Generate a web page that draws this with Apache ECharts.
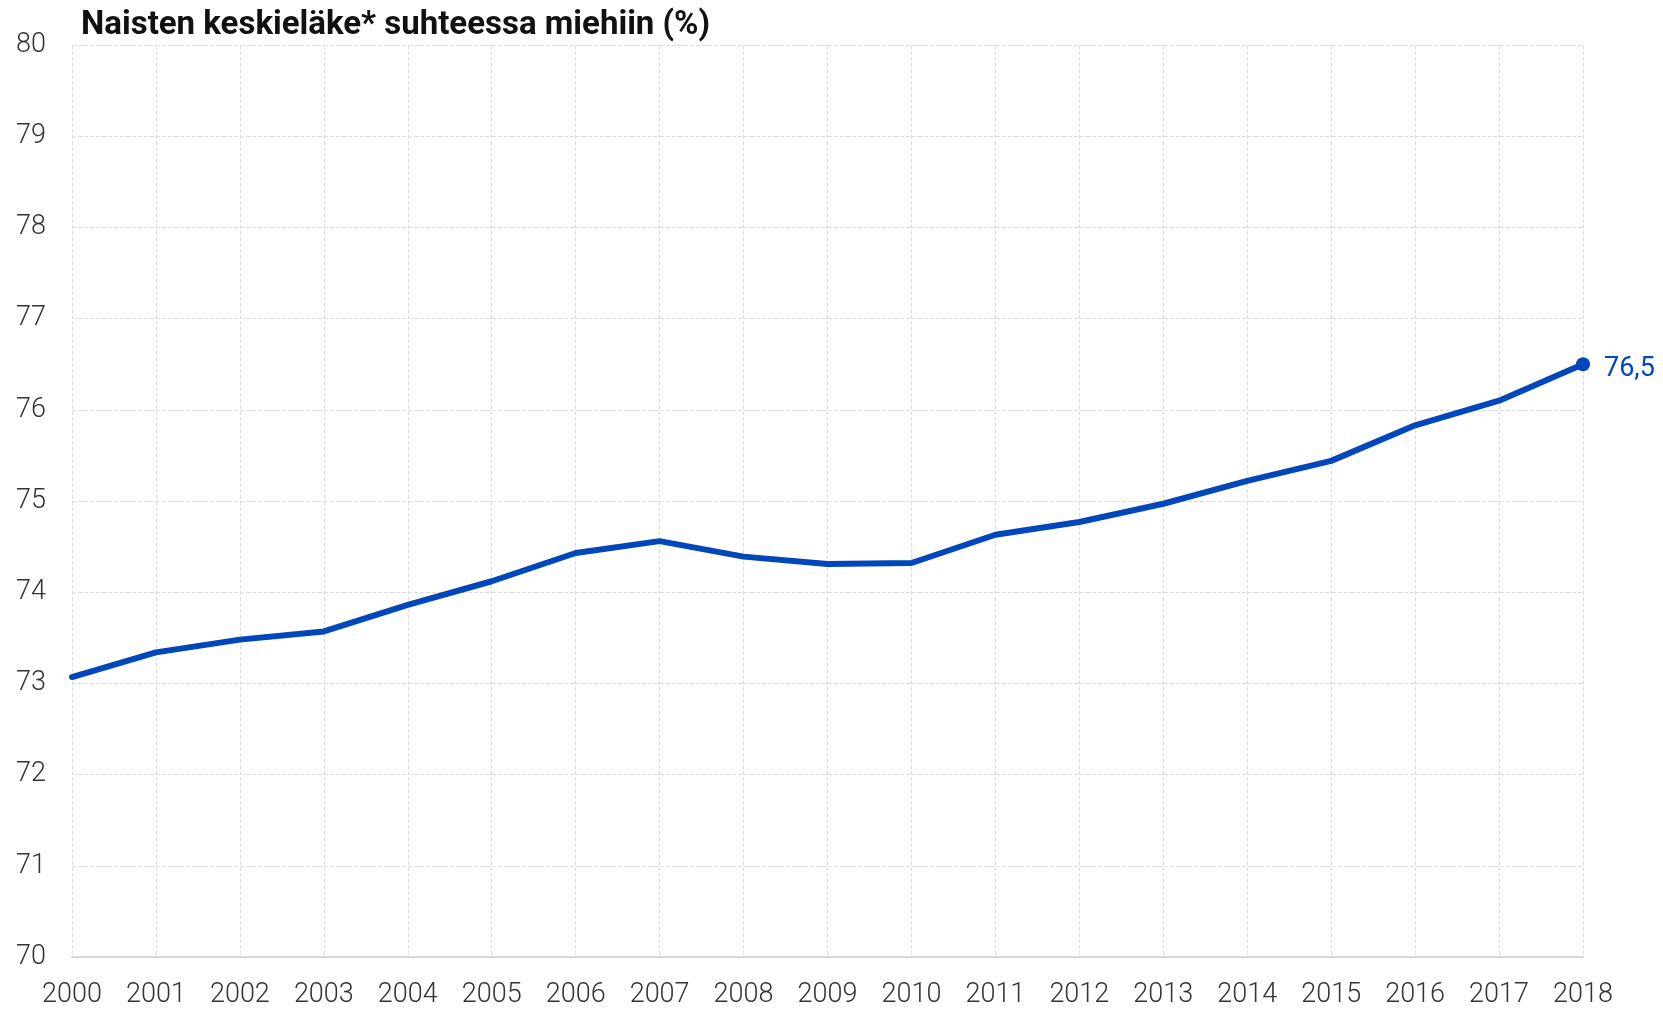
<!DOCTYPE html>
<html>
<head>
<meta charset="utf-8">
<script src="https://cdn.jsdelivr.net/npm/echarts@6/dist/echarts.min.js"></script>
<style>
html,body{margin:0;padding:0;background:#fff;}
#chart{width:1663px;height:1013px;}
</style>
</head>
<body>
<div id="chart"></div>
<script>
const titleText = 'Naisten keskieläke* suhteessa miehiin (%)';
const years = ['2000','2001','2002','2003','2004','2005','2006','2007','2008','2009','2010','2011','2012','2013','2014','2015','2016','2017','2018'];
const values = [73.07, 73.34, 73.48, 73.57, 73.86, 74.12, 74.43, 74.56, 74.39, 74.31, 74.32, 74.63, 74.77, 74.97, 75.22, 75.44, 75.83, 76.10, 76.5];
const endLabelText = '76,5';

const chart = echarts.init(document.getElementById('chart'));
const lastIdx = values.length - 1;
chart.setOption({
  animation: false,
  backgroundColor: '#fff',
  title: {
    text: titleText,
    left: 76,
    top: 4,
    textStyle: {fontFamily: 'Roboto', fontWeight: 'bold', fontSize: 33, color: '#111'}
  },
  grid: {left: 72, right: 80, top: 45, bottom: 56, containLabel: false},
  xAxis: {
    type: 'category',
    data: years,
    boundaryGap: false,
    axisLine: {show: true, lineStyle: {color: '#d6d6d6', width: 2}},
    axisTick: {show: false},
    axisLabel: {interval: 0, margin: 25, fontFamily: 'Roboto', fontWeight: 300, fontSize: 27, color: '#333'},
    splitLine: {show: true, interval: 0, lineStyle: {type: 'dashed', color: '#dcdcdc', width: 1}}
  },
  yAxis: {
    type: 'value',
    min: 70, max: 80, interval: 1,
    axisLine: {show: false},
    axisTick: {show: false},
    axisLabel: {margin: 26, fontFamily: 'Roboto', fontWeight: 300, fontSize: 27, color: '#333'},
    splitLine: {show: true, lineStyle: {type: 'dashed', color: '#dcdcdc', width: 1}}
  },
  series: [{
    type: 'line',
    data: values.map((v, i) => i === lastIdx ? {
      value: v,
      symbol: 'circle', symbolSize: 14,
      label: {show: true, position: 'right', distance: 14, offset: [0, 5], formatter: endLabelText,
        fontFamily: 'Roboto', fontSize: 27, color: '#0047BB'}
    } : {value: v, symbol: 'none'}),
    lineStyle: {color: '#0047BB', width: 6, cap: 'round', join: 'round'},
    itemStyle: {color: '#0047BB'},
    showAllSymbol: true
  }]
});
</script>
</body>
</html>
